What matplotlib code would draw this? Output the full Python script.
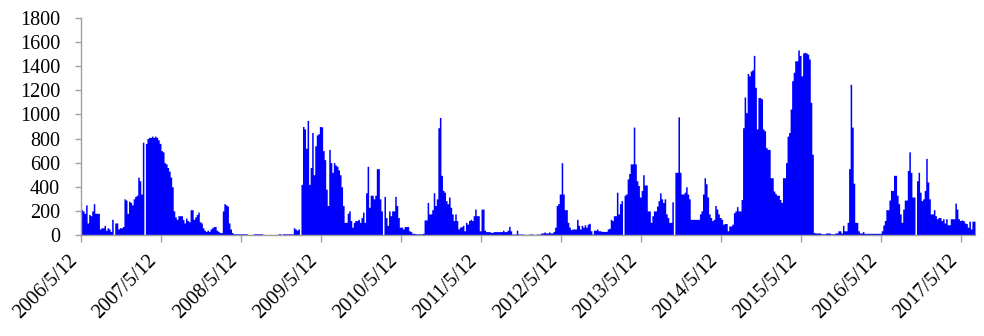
import matplotlib
matplotlib.use("Agg")
import matplotlib.pyplot as plt
import matplotlib.transforms as mtransforms
import pandas as pd

# Weekly values, one list per year starting on May 12 of that year
y2006 = [210,200,180,250,100,170,160,200,260,180,180,180,50,60,60,80,40,60,50,30,
         130,0,100,100,50,60,60,70,300,290,180,280,270,250,300,320,330,480,450,340,
         770,0,760,800,810,810,820,810,820,810,790,760]
y2007 = [700,690,600,590,560,530,480,400,200,150,130,160,160,160,130,100,140,120,110,210,
         210,130,150,170,190,110,100,60,40,30,40,30,50,60,70,70,40,30,20,20,
         200,260,250,240,100,50,20,10,10,10,10,10]
y2008 = [10,10,10,10,0,0,0,5,10,10,10,10,10,10,5,5,0,0,0,5,
         0,0,5,0,10,10,5,10,10,10,10,10,10,10,60,50,40,50,0,420,
         900,880,720,950,420,560,850,500,740,830,840,900]
y2009 = [897,700,625,380,245,710,600,520,600,580,570,540,500,400,245,105,105,180,200,120,
         65,105,120,120,130,105,145,190,105,350,570,230,330,330,300,330,550,550,300,200,
         0,320,145,80,200,160,200,200,320,245,145,65]
y2010 = [65,50,70,70,70,35,28,14,14,10,10,10,10,10,14,125,125,270,175,175,
         210,350,245,300,890,975,495,370,355,285,260,315,230,175,120,175,120,50,65,70,
         80,35,105,90,120,130,120,160,215,160,160,35]
y2011 = [215,215,40,28,28,28,22,22,28,28,28,28,28,28,40,28,28,40,72,35,
         8,8,8,40,8,8,8,8,5,5,5,8,8,8,5,5,8,8,8,17,
         17,25,17,17,25,17,17,30,65,245,260,340]
y2012 = [600,340,210,210,105,65,45,50,50,50,130,80,50,80,65,85,65,90,97,35,
         8,40,40,50,35,35,30,30,30,30,50,55,130,120,160,160,355,175,260,285,
         0,330,340,465,510,590,590,895,590,450,410,315]
y2013 = [370,500,415,415,200,200,105,160,200,200,240,285,350,300,270,300,175,145,105,105,
         275,0,520,520,980,520,340,340,355,400,340,300,130,130,130,130,130,130,175,200,
         340,475,425,315,175,145,120,130,245,215,175,145]
y2014 = [130,90,95,95,35,75,75,90,185,200,235,200,200,295,890,1145,1015,1340,1320,1360,
         1370,1490,1225,880,1140,1140,1130,880,865,725,710,710,475,475,365,345,330,330,295,270,
         475,475,600,820,850,1045,1280,1350,1445,1445,1535,1490]
y2015 = [1320,1510,1515,1510,1500,1460,1100,670,20,17,17,17,17,10,10,10,17,17,17,10,
         10,10,17,17,35,35,17,80,35,35,105,550,1250,895,430,105,105,35,17,17,
         28,14,14,14,14,14,14,14,14,14,14,14]
y2016 = [35,83,120,210,210,290,370,370,495,495,330,260,175,105,215,290,290,535,690,520,
         315,315,0,450,520,355,285,300,370,635,440,300,175,175,210,160,135,145,145,120,
         135,100,135,85,85,135,135,135,265,215,135,120]
y2017 = [125,120,100,95,65,115,50,115,115]

years = list(range(2006, 2018))
series = [y2006, y2007, y2008, y2009, y2010, y2011, y2012, y2013, y2014, y2015, y2016, y2017]
tick_labels = [f"{yr}/5/12" for yr in years]

dates, values = [], []
for yr, vals in zip(years, series):
    base = pd.Timestamp(f"{yr}-05-12")
    for i, v in enumerate(vals):
        dates.append(base + pd.Timedelta(days=7 * i))
        values.append(v)
end_date = dates[-1] + pd.Timedelta(days=7)

plt.rcParams['font.family'] = ['Liberation Serif', 'DejaVu Serif']

fig = plt.figure(figsize=(9.84, 3.36), dpi=100)
ax = fig.add_axes([81/984, 1 - 235/336, (975 - 81)/984, (235 - 18)/336])

# weekly bars drawn as a stepped filled area (each week spans 7 days)
ax.fill_between(dates + [end_date], values + [values[-1]], 0, step='post',
                color='#0000FF', linewidth=0)

ax.set_ylim(0, 1800)
ax.set_yticks(range(0, 1801, 200))
ax.set_xlim(pd.Timestamp("2006-05-12"), end_date)
tick_pos = [pd.Timestamp(f"{yr}-05-12") for yr in years]
ax.set_xticks(tick_pos)
ax.set_xticklabels(tick_labels, rotation=45, ha='right')

offset = mtransforms.ScaledTranslation(4/100, 0, fig.dpi_scale_trans)
for lbl in ax.get_xticklabels():
    lbl.set_transform(lbl.get_transform() + offset)

for s in ['top', 'right']:
    ax.spines[s].set_visible(False)
for s in ['left', 'bottom']:
    ax.spines[s].set_color('#A0A0A0')
    ax.spines[s].set_linewidth(1.0)
ax.set_axisbelow(False)

ax.tick_params(axis='x', direction='out', length=5, width=1, color='#A0A0A0',
               labelsize=14.5, pad=7)
ax.tick_params(axis='y', direction='out', length=4, width=1, color='#A0A0A0',
               labelsize=14.5, pad=11)

fig.savefig("out.png", dpi=100)
